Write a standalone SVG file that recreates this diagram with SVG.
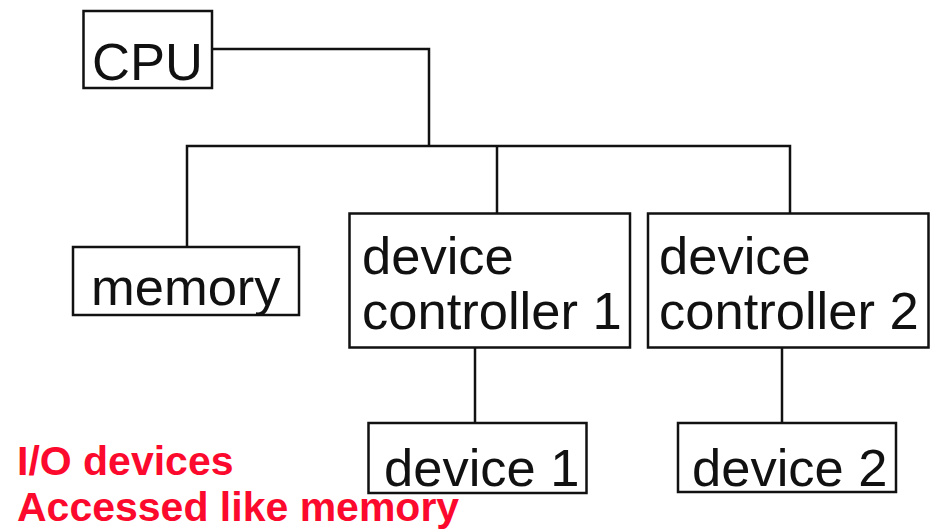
<svg xmlns="http://www.w3.org/2000/svg" width="938" height="530" viewBox="0 0 938 530">
  <style>
    .box { fill: #fff; stroke: #111; stroke-width: 2.5; }
    .wire { fill: none; stroke: #111; stroke-width: 2.5; }
    .lbl { font-family: "Liberation Sans", Arial, sans-serif; font-size: 52.5px; fill: #111; }
    .note { font-family: "Liberation Sans", Arial, sans-serif; font-size: 41px; font-weight: bold; fill: #fb0a2d; }
  </style>
  <rect width="938" height="530" fill="#fff"/>

  <!-- bus and links -->
  <g id="connectors">
    <polyline class="wire" points="212,49 429,49 429,146"/>
    <polyline class="wire" points="187,247 187,146 790,146 790,213"/>
    <line class="wire" x1="497" y1="146" x2="497" y2="213"/>
    <line class="wire" x1="475" y1="348" x2="475" y2="423"/>
    <line class="wire" x1="782" y1="348" x2="782" y2="423"/>
  </g>

  <g id="cpu">
    <rect class="box" x="83.5" y="11" width="128.5" height="77"/>
    <text class="lbl" x="92" y="80">CPU</text>
  </g>

  <g id="memory">
    <rect class="box" x="73" y="247" width="226" height="68"/>
    <text class="lbl" x="91" y="305">memory</text>
  </g>

  <g id="controller1">
    <rect class="box" x="349.5" y="213.5" width="280.5" height="134"/>
    <text class="lbl" x="362" y="274">device</text>
    <text class="lbl" x="362" y="329">controller 1</text>
  </g>

  <g id="controller2">
    <rect class="box" x="648" y="213.5" width="280.5" height="134"/>
    <text class="lbl" x="659" y="274">device</text>
    <text class="lbl" x="659" y="329">controller 2</text>
  </g>

  <g id="device1">
    <rect class="box" x="368.5" y="423" width="218" height="70"/>
    <text class="lbl" x="384" y="486">device 1</text>
  </g>

  <g id="device2">
    <rect class="box" x="678" y="423" width="218" height="69"/>
    <text class="lbl" x="692" y="486">device 2</text>
  </g>

  <g id="caption">
    <text class="note" x="17" y="475">I/O devices</text>
    <text class="note" x="17" y="521">Accessed like memory</text>
  </g>
</svg>
